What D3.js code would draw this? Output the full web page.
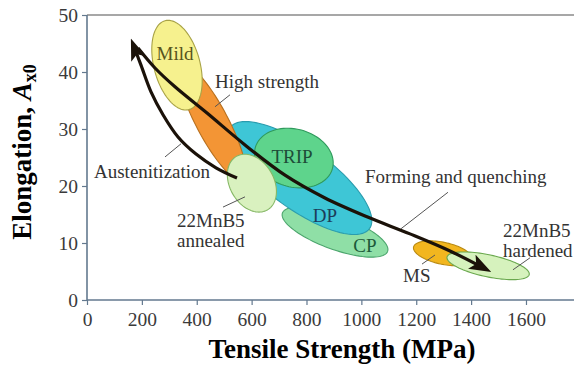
<!DOCTYPE html>
<html>
<head>
<meta charset="utf-8">
<script src="https://cdn.jsdelivr.net/npm/d3@7"></script>
<style>
  html, body { margin: 0; padding: 0; background: #fff; }
  svg { display: block; }
  svg text { font-family: "Liberation Serif", "Times New Roman", "DejaVu Serif", serif !important; }
</style>
</head>
<body>
<svg id="chart" width="574" height="366"></svg>
<script>
// ---------- data ----------
const strengthTicks = [0, 200, 400, 600, 800, 1000, 1200, 1400, 1600];
const elongationTicks = [0, 10, 20, 30, 40, 50];

// steel-grade regions (drawn bottom to top)
const regionNames    = ["CP", "DP", "TRIP", "High strength", "Mild", "22MnB5 annealed", "MS", "22MnB5 hardened"];
const regionStrength = [904, 776, 754, 456, 328, 601, 1297, 1462];     // centre, MPa
const regionElong    = [11.9, 21.4, 24.9, 31.2, 41.2, 20.5, 8.2, 6.0];  // centre, %
// conjugate semi-axes in data units: major (MPa, %), minor (MPa, %)
const majorMPa  = [191.7, 253.7, 140.7, 112.0, 43.4, 56.5, 106.8, 149.8];
const majorEl   = [-3.37, -8.88, -1.82, -10.2, -7.8, -4.70, -1.09, -1.53];
const minorMPa  = [-21.1, -66.3, -27.3, -51.4, -81.0, -69.4, -8.3, -8.3];
const minorEl   = [-2.81, -4.40, -4.91, -1.32, -1.05, -1.93, -1.89, -1.89];
const regionFill   = ["#8fdfa6", "#3ec6d6", "#5ed48c", "#f39535", "#f6f18e", "#d9f1bf", "#f2b61f", "#d6f2bd"];
const regionStroke = ["#4ba56c", "#2a9cae", "#2f9a5c", "#b8701e", "#a8a246", "#86b866", "#b98a12", "#6aa84e"];

// process paths (MPa, %)
const austenitizationMPa = [546.7, 470.2, 397.3, 331.7, 277.0, 233.3, 196.8, 167.7];
const austenitizationEl  = [21.4, 23.2, 25.6, 28.6, 32.5, 36.5, 41.2, 44.9];
const formingMPa = [185.9, 247.8, 320.7, 437.4, 575.9, 721.7, 867.4, 1020.5, 1177.2, 1323.0, 1454.0];
const formingEl  = [44.2, 40.7, 37.4, 32.8, 27.2, 21.9, 17.9, 14.6, 11.6, 8.6, 5.4];

// labels
const labelText   = ["Mild", "High strength", "TRIP", "DP", "CP", "Austenitization", "22MnB5", "annealed",
                     "Forming and quenching", "22MnB5", "hardened", "MS"];
const labelMPa    = [320.7, 466.5, 747.2, 867.4, 1013.2, 25.5, 328, 328, 1013.2, 1516.2, 1516.2, 1151.7];
const labelEl     = [42.1, 37.2, 24.0, 13.7, 8.4, 21.4, 12.8, 9.3, 20.5, 11.1, 7.5, 3.2];
const labelAnchor = ["middle", "start", "middle", "middle", "middle", "start", "start", "start", "start", "start", "start", "start"];
const labelColor  = ["#57541c", "#333", "#1d4d38", "#1c3d5a", "#1d5a3a", "#333", "#333", "#333", "#333", "#333", "#333", "#333"];

// leader lines (MPa1, %1, MPa2, %2)
const leaderMPa1 = [521.2, 284.3, 495.7, 1315.7, 1614.6, 1221.0];
const leaderEl1  = [36.0, 25.1, 16.3, 18.9, 7.4, 6.3];
const leaderMPa2 = [466.5, 342.6, 575.9, 1144.4, 1552.6, 1268.4];
const leaderEl2  = [33.9, 27.4, 18.1, 12.5, 5.3, 7.9];

// ---------- chart ----------
const SERIF = '"Liberation Serif", "Times New Roman", "DejaVu Serif", serif';
const svg = d3.select("#chart");
const x = d3.scaleLinear().domain([0, 1775]).range([87, 574]);
const y = d3.scaleLinear().domain([0, 50]).range([300, 15]);

// frame
svg.append("line").attr("x1", x(0)).attr("x2", 574).attr("y1", y(50)).attr("y2", y(50))
  .attr("stroke", "#8a8a8a").attr("stroke-width", 1.6);

// regions
const ellipseLine = d3.line().curve(d3.curveLinearClosed);
regionNames.forEach((name, i) => {
  const pts = d3.range(0, 96).map(k => {
    const t = k / 96 * 2 * Math.PI;
    const ms = regionStrength[i] + majorMPa[i] * Math.cos(t) + minorMPa[i] * Math.sin(t);
    const el = regionElong[i] + majorEl[i] * Math.cos(t) + minorEl[i] * Math.sin(t);
    return [x(ms), y(el)];
  });
  svg.append("path").attr("d", ellipseLine(pts))
    .attr("fill", regionFill[i]).attr("stroke", regionStroke[i]).attr("stroke-width", 1.1);
});

// axes
const yAxis = svg.append("g").attr("transform", `translate(${x(0)},0)`)
  .call(d3.axisLeft(y).tickValues(elongationTicks).tickSize(5).tickPadding(4).tickFormat(d3.format("d")));
const xAxis = svg.append("g").attr("transform", `translate(0,${y(0)})`)
  .call(d3.axisBottom(x).tickValues(strengthTicks).tickSize(5).tickPadding(7).tickFormat(d3.format("d")));
[xAxis, yAxis].forEach(g => {
  g.attr("font-family", SERIF);
  g.select(".domain").attr("stroke", "#63798f").attr("stroke-width", 1.6);
  g.selectAll(".tick line").attr("stroke", "#63798f").attr("stroke-width", 1.2);
  g.selectAll(".tick text").attr("fill", "#3a3a3a").style("font-size", "19.5px")
    .attr("font-family", SERIF);
});
xAxis.select(".domain").attr("d", `M${x(0)},0H574`);
yAxis.select(".domain").attr("d", `M0,${y(0)}V${y(50)}`);

// arrow marker
const defs = svg.append("defs");
defs.append("marker").attr("id", "head").attr("viewBox", "0 0 22 16")
  .attr("markerUnits", "userSpaceOnUse").attr("markerWidth", 22).attr("markerHeight", 16)
  .attr("refX", 16).attr("refY", 8).attr("orient", "auto")
  .append("path").attr("d", "M0,0 L22,8 L0,16 L5,8 Z").attr("fill", "#1b1209");

const curve = d3.line().curve(d3.curveCatmullRom.alpha(0.5));
svg.append("path")
  .attr("d", curve(austenitizationMPa.map((m, i) => [x(m), y(austenitizationEl[i])])))
  .attr("fill", "none").attr("stroke", "#1b1209").attr("stroke-width", 3.2)
  .attr("marker-end", "url(#head)");
svg.append("path")
  .attr("d", curve(formingMPa.map((m, i) => [x(m), y(formingEl[i])])))
  .attr("fill", "none").attr("stroke", "#1b1209").attr("stroke-width", 3.2)
  .attr("marker-end", "url(#head)");

// leader lines
leaderMPa1.forEach((m, i) => {
  svg.append("line").attr("x1", x(m)).attr("y1", y(leaderEl1[i]))
    .attr("x2", x(leaderMPa2[i])).attr("y2", y(leaderEl2[i]))
    .attr("stroke", "#555").attr("stroke-width", 1);
});

// labels
labelText.forEach((t, i) => {
  svg.append("text").attr("x", x(labelMPa[i])).attr("y", y(labelEl[i]))
    .attr("text-anchor", labelAnchor[i]).attr("fill", labelColor[i])
    .attr("font-family", SERIF).style("font-size", "19px").text(t);
});

// axis titles
svg.append("text").attr("x", 342).attr("y", 358).attr("text-anchor", "middle")
  .attr("font-family", SERIF).style("font-size", "27px").style("font-weight", "bold").attr("fill", "#000")
  .text("Tensile Strength (MPa)");

const yt = svg.append("text").attr("transform", "translate(31,152) rotate(-90)")
  .attr("font-family", SERIF).attr("text-anchor", "middle")
  .style("font-size", "27px").style("font-weight", "bold").attr("fill", "#000");
yt.append("tspan").text("Elongation, ");
yt.append("tspan").style("font-style", "italic").text("A");
yt.append("tspan").attr("dy", 5).style("font-size", "18px").text("x0");
</script>
</body>
</html>
